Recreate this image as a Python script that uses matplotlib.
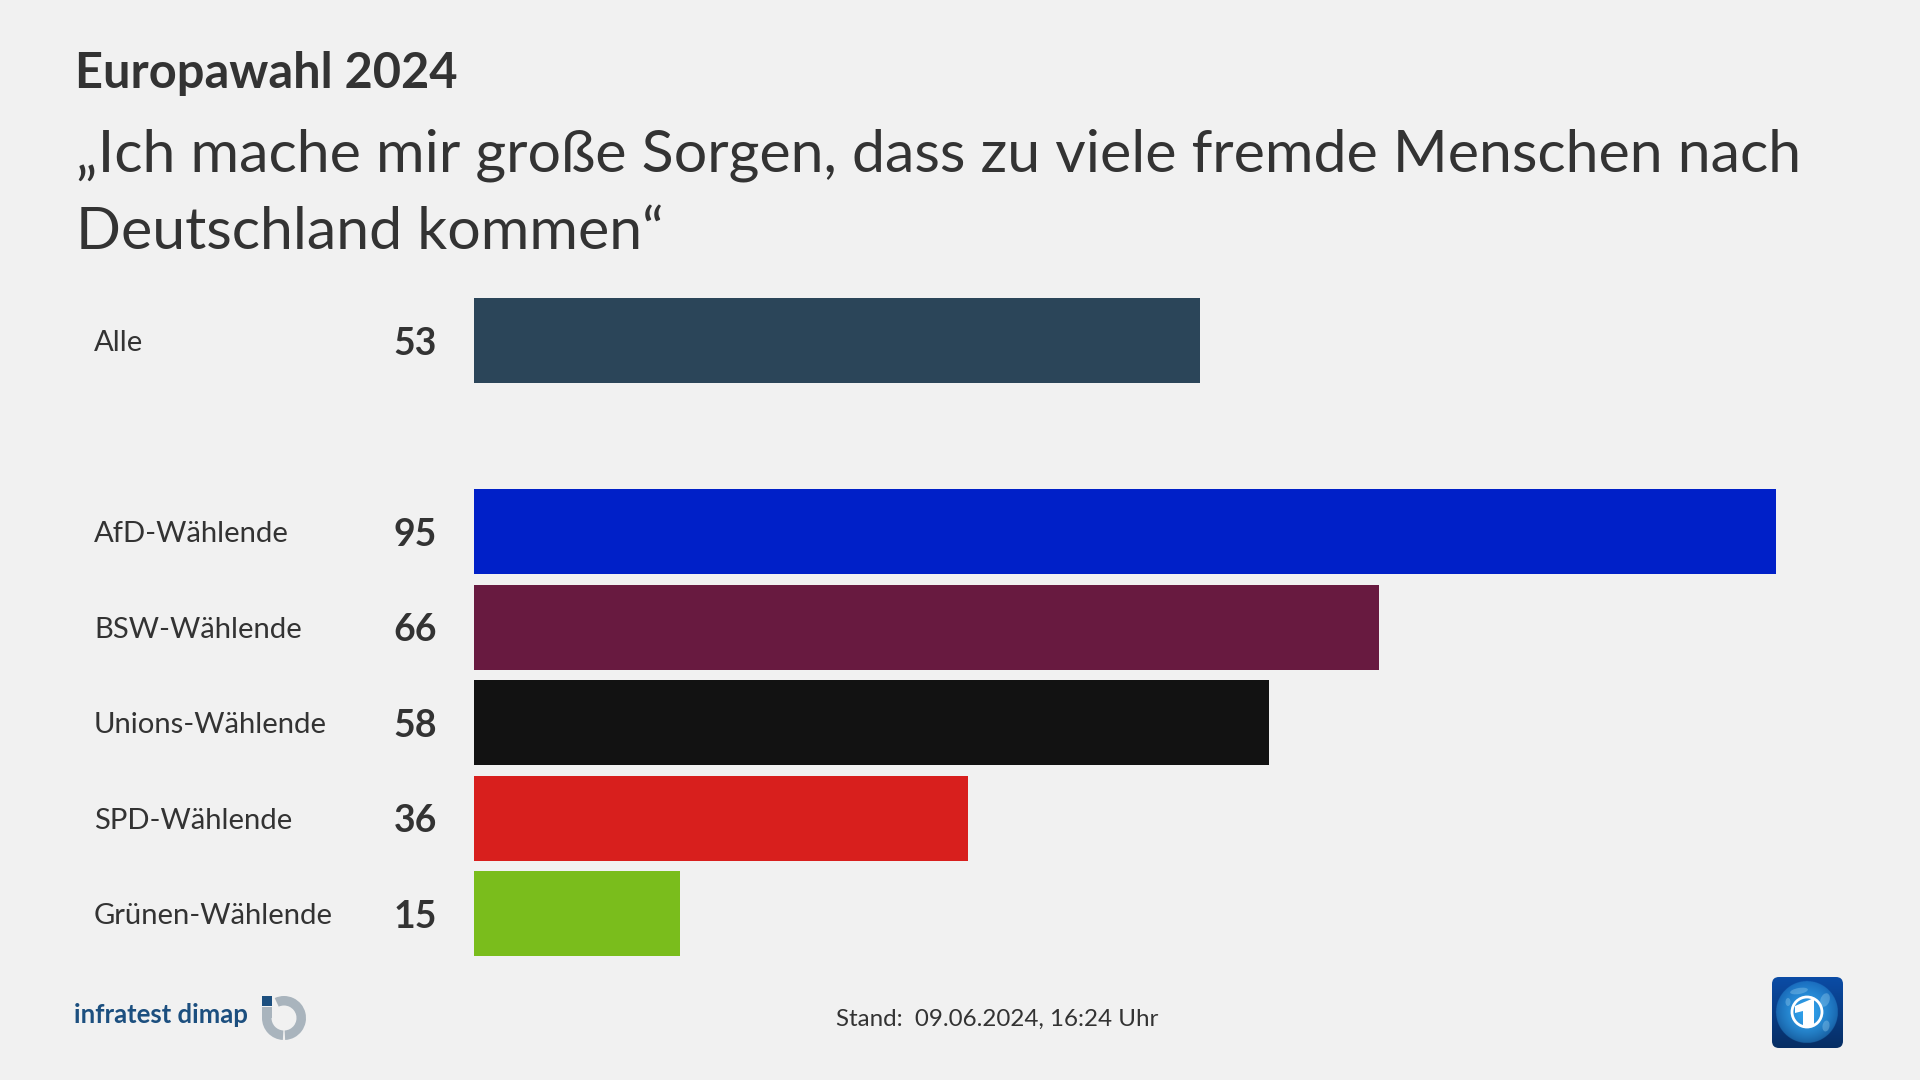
import numpy as np
import matplotlib
matplotlib.use("Agg")
import matplotlib.pyplot as plt
from matplotlib.patches import Wedge, Rectangle, Circle, FancyBboxPatch, Polygon, Ellipse
from matplotlib.transforms import blended_transform_factory

categories = ["Alle", "AfD-Wählende", "BSW-Wählende", "Unions-Wählende", "SPD-Wählende", "Grünen-Wählende"]
values = [53, 95, 66, 58, 36, 15]
rows = [0, 2, 3, 4, 5, 6]
colors = ["#2b4559", "#0020c8", "#681a40", "#121212", "#d81f1d", "#7abd1c"]

BG = "#f1f1f1"
INK = "#333333"
plt.rcParams["font.family"] = ["Lato", "DejaVu Sans"]

W, H = 1920, 1080
fig = plt.figure(figsize=(W / 100, H / 100), dpi=100, facecolor=BG)


def px(s):
    return s * 0.72


ov = fig.add_axes([0, 0, 1, 1], facecolor="none")
ov.set_xlim(0, W)
ov.set_ylim(H, 0)
ov.axis("off")

ov.text(75, 88, "Europawahl 2024", fontsize=px(48.8), fontweight="bold", color=INK, va="baseline")
ov.text(75.5, 172, "„Ich mache mir große Sorgen, dass zu viele fremde Menschen nach",
        fontsize=px(59.1), color=INK, va="baseline")
ov.text(75.5, 249, "Deutschland kommen“", fontsize=px(59.1), color=INK, va="baseline")
ov.text(836.5, 1026, "Stand:  09.06.2024, 16:24 Uhr", fontsize=px(24.1), color=INK, va="baseline")

top, bottom = 293.0, 961.5
left, right = 474.3, 1844.3
ax = fig.add_axes([left / W, 1 - bottom / H, (right - left) / W, (bottom - top) / H], facecolor="none")
ax.barh(rows, values, height=0.89, color=colors, linewidth=0)
ax.set_xlim(0, 100)
ax.set_ylim(6.5, -0.5)
ax.axis("off")
tr = blended_transform_factory(fig.transFigure, ax.transData)
for r, c, v in zip(rows, categories, values):
    ax.text(94 / W, r, c, transform=tr, fontsize=px(29.3), color=INK, va="center_baseline", ha="left")
    ax.text(437 / W, r, str(v), transform=tr, fontsize=px(37.5), fontweight="bold", color=INK,
            va="center_baseline", ha="right")

# infratest dimap logo
ov.text(74, 1023, "infratest dimap", fontsize=px(25.8), fontweight="bold", color="#1c4f7f", va="baseline")
g = "#a9b4bd"
ov.add_patch(Wedge((284, 1018), 22, -115, 87, width=9.5, color=g, lw=0))
ov.add_patch(Wedge((284, 1018), 22, 93, 180, width=9.5, color=g, lw=0))
ov.add_patch(Rectangle((262, 1007), 9.5, 11, color=g, lw=0))
ov.add_patch(Rectangle((262, 996), 10, 9.5, color="#1c4f7f", lw=0))

# Tagesschau logo
box = FancyBboxPatch((1776, 981), 63, 63, boxstyle="round,pad=4,rounding_size=7", color="none", lw=0)
ov.add_patch(box)
yy, xx = np.mgrid[977:1048:300j, 1772:1843:300j]
rr = np.hypot(xx - 1807, yy - 1012) / 31
base = np.array([0x0b, 0x4c, 0xa6])[None, None] * (1 - (yy - 977)[..., None] / 71 * 0.4)
glow = np.array([0x2e, 0x9c, 0xe6])[None, None]
t = (np.clip(1.25 - rr, 0, 1)[..., None] ** 0.6) * (rr[..., None] < 1)
img = (base * (1 - t) + glow * t) / 255
im = ov.imshow(np.clip(img, 0, 1), extent=(1772, 1843, 1048, 977), zorder=2, aspect="auto")
im.set_clip_path(box)
ov.set_xlim(0, W)
ov.set_ylim(H, 0)
for cx, cy, a, b, ang in [(1799, 991, 18, 6, -10), (1825, 1000, 9, 14, 20), (1826, 1026, 7, 11, 10), (1788, 1002, 5, 8, 0)]:
    ov.add_patch(Ellipse((cx, cy), a, b, angle=ang, color="#9fd4f2", alpha=0.35, lw=0, zorder=2.5))
ov.add_patch(Circle((1807, 1012), 15, fill=False, ec="white", lw=2.0, zorder=3))
ov.add_patch(Polygon([(1795, 1006), (1814, 998), (1814, 1026), (1803, 1028), (1803, 1011), (1795, 1013)],
                     closed=True, color="white", lw=0, zorder=3))

fig.savefig("out.png", dpi=100, facecolor=BG)
